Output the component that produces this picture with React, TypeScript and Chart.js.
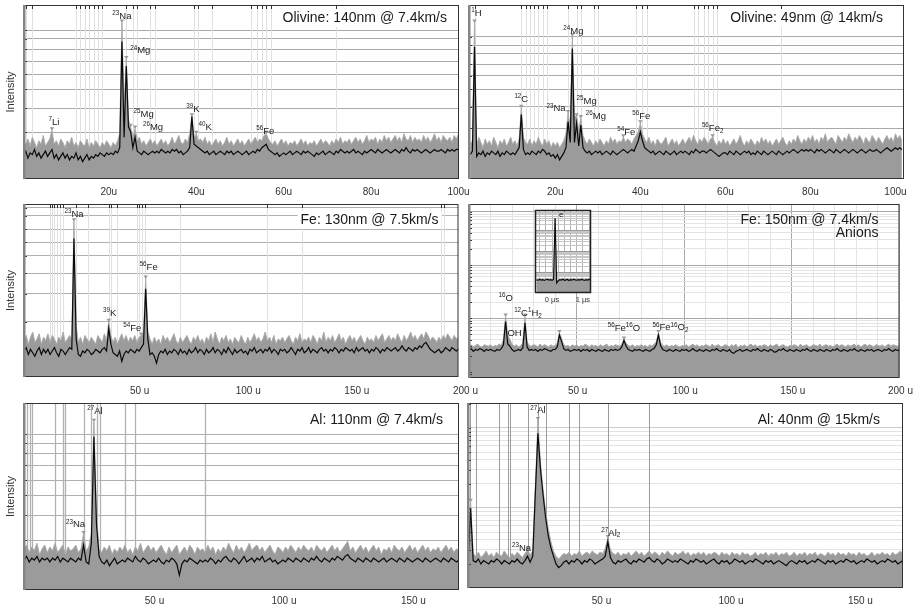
import React, { useEffect, useRef } from 'react';
import { Chart, registerables } from 'chart.js';

Chart.register(...registerables);

const FONT = '"Liberation Sans", Arial, Helvetica, sans-serif';

// ---------------- Panel 1: Olivine 140nm ----------------
const p1Title = ['Olivine: 140nm @ 7.4km/s'];
const p1MassStart = 0.5;
const p1MassStep = 0.5;
const p1XTicks = [20, 40, 60, 80, 100];
const p1YGrid = [27, 40.8, 51.7, 60.3, 67.8, 74.7, 80.5, 85.6];
const p1Markers = [1, 2.5, 12.5, 13.5, 14.5, 15.5, 16.5, 17.5, 18.5, 24, 25.5, 26.5, 29.5, 30.5, 39.5, 40.5, 43.5, 52.5, 54, 55, 56, 57, 72];
const p1Gray = [
  21, 20, 23, 19, 24, 21, 18, 22, 20, 25,
  19, 21, 23, 28, 20, 22, 19, 23, 21, 18,
  22, 20, 24, 19, 21, 18, 22, 20, 19, 23,
  18, 21, 19, 22, 20, 18, 21, 19, 22, 20,
  18, 21, 19, 22, 26, 90, 42, 69, 34, 30,
  24, 29, 22, 24, 20, 22, 19, 21, 23, 20,
  22, 19, 21, 23, 20, 22, 19, 21, 24, 20,
  22, 25, 21, 20, 23, 21, 26, 36, 24, 26,
  22, 23, 21, 24, 20, 22, 19, 21, 23, 20,
  22, 19, 21, 24, 20, 22, 19, 21, 23, 20,
  22, 19, 21, 23, 20, 22, 24, 21, 23, 22,
  25, 26, 23, 21, 20, 22, 19, 21, 23, 20,
  22, 19, 21, 20, 22, 19, 21, 23, 20, 22,
  19, 21, 20, 22, 19, 21, 23, 20, 22, 21,
  19, 22, 20, 23, 21, 24, 20, 22, 21, 23,
  20, 22, 24, 21, 23, 20, 22, 25, 21, 23,
  22, 24, 20, 23, 21, 25, 22, 24, 21, 23,
  25, 22, 24, 21, 26, 23, 22, 25, 21, 24,
  22, 23, 21, 25, 22, 24, 21, 23, 26, 22,
  24, 21, 25, 23, 22, 24, 21, 25, 23, 26,
];
const p1Black = [
  13, 16, 12, 15, 14, 17, 13, 15, 12, 14,
  16, 13, 15, 17, 12, 14, 11, 13, 15, 12,
  14, 11, 13, 12, 15, 11, 13, 10, 12, 14,
  11, 13, 12, 14, 13, 15, 14, 13, 15, 14,
  15, 14, 16, 15, 18, 79, 24, 65, 30, 27,
  18, 24, 16, 15, 14, 16, 15, 14, 15, 16,
  15, 16, 15, 17, 16, 15, 16, 15, 17, 16,
  17, 15, 16, 14, 15, 16, 18, 36, 20, 19,
  18, 17, 16, 15, 16, 14, 15, 16, 14, 15,
  16, 15, 14, 16, 15, 16, 14, 15, 16, 15,
  14, 15, 16, 14, 15, 16, 15, 17, 16, 18,
  19, 20, 17, 16, 15, 14, 15, 13, 14, 15,
  14, 15, 16, 14, 15, 16, 15, 14, 16, 15,
  16, 15, 14, 13, 15, 14, 15, 16, 14, 15,
  16, 15, 14, 16, 15, 17, 16, 15, 16, 15,
  16, 17, 15, 16, 15, 14, 16, 15, 16, 17,
  16, 15, 17, 16, 15, 16, 17, 16, 15, 16,
  17, 16, 15, 17, 16, 18, 16, 15, 17, 16,
  17, 16, 15, 16, 17, 16, 15, 16, 17, 16,
  16, 17, 16, 15, 17, 16, 17, 16, 17, 17,
];
// [mass, label, dx, dy, marker]
const p1Labels: any[] = [
  [7, '^7Li', 2, 9], [23, '^23Na', 0, 7], [24, '^24Mg', 14, 9], [25, '^25Mg', 13, 13],
  [26, '^26Mg', 18, 2], [39, '^39K', 1, 8], [40, '^40K', 9, 7], [56, '^56Fe', -1, 3],
];

// ---------------- Panel 2: Olivine 49nm ----------------
const p2Title = ['Olivine: 49nm @ 14km/s'];
const p2MassStart = 0;
const p2MassStep = 0.5;
const p2XTicks = [20, 40, 60, 80, 100];
const p2YGrid = [29.1, 41.6, 51.6, 59.2, 65.9, 72.2, 77.0, 81.8];
const p2Markers = [1, 12, 13, 14, 15, 16, 17, 18, 23, 25, 26, 29, 30, 39, 40.5, 41.5, 52.5, 53.5, 55, 56, 57, 58, 73];
const p2Gray = [
  20, 22, 90, 19, 24, 21, 18, 23, 20, 22,
  19, 24, 21, 18, 22, 20, 23, 19, 21, 24,
  20, 22, 19, 23, 41, 24, 21, 20, 23, 19,
  22, 20, 24, 21, 19, 23, 20, 22, 18, 21,
  19, 21, 18, 20, 22, 26, 38, 30, 82, 36,
  36, 28, 35, 25, 22, 20, 23, 21, 19, 22,
  20, 23, 21, 19, 22, 20, 24, 21, 23, 20,
  22, 21, 24, 21, 23, 22, 20, 23, 25, 27,
  32, 26, 23, 21, 24, 20, 22, 19, 23, 21,
  20, 22, 24, 19, 21, 23, 20, 22, 19, 21,
  23, 20, 22, 24, 21, 25, 22, 20, 23, 21,
  24, 22, 20, 23, 24, 21, 19, 22, 20, 23,
  20, 22, 19, 21, 23, 20, 22, 25, 21, 19,
  22, 20, 23, 21, 19, 22, 20, 24, 21, 23,
  20, 22, 19, 21, 23, 20, 22, 24, 21, 19,
  22, 20, 23, 21, 25, 22, 20, 23, 21, 24,
  22, 25, 21, 23, 20, 24, 22, 26, 21, 23,
  24, 22, 20, 25, 23, 21, 24, 22, 26, 23,
  21, 24, 22, 25, 23, 20, 24, 22, 21, 25,
  23, 21, 24, 22, 20, 23, 25, 22, 24, 21,
  26, 23, 25, 22,
];
const p2Black = [
  14, 16, 76, 13, 15, 14, 16, 13, 15, 14,
  16, 15, 14, 16, 13, 15, 14, 16, 15, 14,
  15, 14, 16, 18, 37, 17, 14, 15, 14, 16,
  15, 14, 16, 15, 17, 16, 14, 15, 13, 14,
  12, 14, 11, 13, 15, 18, 33, 21, 75, 21,
  32, 19, 31, 18, 16, 15, 16, 14, 15, 16,
  15, 16, 14, 15, 16, 15, 14, 16, 15, 14,
  15, 16, 17, 16, 15, 16, 17, 16, 19, 22,
  27, 22, 18, 17, 16, 15, 16, 14, 15, 16,
  15, 14, 16, 15, 14, 15, 16, 14, 15, 16,
  15, 16, 15, 14, 16, 15, 17, 16, 15, 16,
  16, 15, 16, 17, 16, 15, 14, 13, 14, 15,
  15, 14, 16, 15, 14, 16, 15, 14, 15, 16,
  15, 16, 14, 15, 14, 16, 15, 14, 16, 15,
  14, 15, 16, 15, 14, 16, 15, 14, 15, 16,
  15, 16, 17, 16, 15, 16, 17, 16, 17, 16,
  17, 16, 15, 17, 16, 17, 16, 15, 16, 17,
  16, 15, 17, 16, 15, 16, 17, 16, 15, 16,
  17, 16, 15, 16, 17, 16, 15, 16, 17, 16,
  16, 17, 16, 15, 16, 17, 18, 17, 16, 17,
  18, 17, 18, 17,
];
const p2Labels: any[] = [
  [1, '^1H', 2, 10], [12, '^12C', 0, 9], [23, '^23Na', -12, 5], [24, '^24Mg', 1, 6],
  [25, '^25Mg', 10, 16], [26, '^26Mg', 15, 3], [36, '^54Fe', 3, 6], [40, '^56Fe', 1, 8],
  [57, '^56Fe_2', 0, 10],
];

// ---------------- Panel 3: Fe 130nm ----------------
const p3Title = ['Fe: 130nm @ 7.5km/s'];
const p3MassStart = 0;
const p3MassStep = 1;
const p3XTicks = [50, 100, 150, 200];
const p3YGrid = [31.8, 48, 60.1, 70, 78, 85.5, 93.1, 97.7];
const p3Markers = [12, 13, 14, 15, 16.5, 18, 24, 29.5, 39, 40, 43, 52, 53, 54.5, 55.5, 72, 112, 128, 192, 193.5];
const p3Gray = [
  21, 24, 19, 23, 26, 20, 22, 25, 19, 23,
  21, 25, 20, 24, 22, 19, 23, 21, 26, 20,
  22, 24, 21, 90, 30, 20, 23, 19, 24, 22,
  20, 23, 21, 19, 24, 22, 20, 25, 21, 32,
  24, 20, 23, 19, 22, 25, 21, 24, 20, 23,
  21, 24, 20, 23, 24, 25, 57, 26, 22, 19,
  23, 20, 22, 19, 24, 21, 23, 20, 22, 25,
  21, 19, 23, 20, 22, 24, 21, 19, 23, 21,
  24, 20, 22, 19, 23, 21, 25, 20, 26, 22,
  19, 23, 21, 24, 20, 22, 19, 23, 21, 20,
  24, 21, 19, 23, 20, 22, 25, 21, 23, 20,
  22, 26, 21, 23, 20, 24, 19, 22, 21, 23,
  20, 22, 24, 21, 19, 23, 21, 25, 20, 22,
  21, 23, 20, 24, 22, 19, 23, 21, 26, 20,
  23, 21, 24, 20, 22, 25, 21, 23, 19, 22,
  24, 21, 23, 20, 22, 24, 21, 19, 23, 21,
  22, 20, 24, 21, 23, 25, 20, 22, 24, 21,
  23, 21, 25, 22, 20, 24, 21, 23, 26, 22,
  24, 21, 23, 25, 22, 26, 24, 21, 23, 22,
  20, 23, 21, 24, 22, 25, 23, 21, 24, 22,
  23,
];
const p3Black = [
  15, 17, 13, 16, 14, 12, 15, 17, 13, 16,
  14, 16, 13, 15, 17, 14, 12, 16, 15, 13,
  15, 17, 16, 80, 22, 13, 12, 15, 14, 16,
  15, 13, 14, 16, 15, 14, 16, 17, 15, 28,
  19, 14, 13, 12, 15, 9, 13, 15, 14, 16,
  15, 14, 16, 15, 17, 19, 51, 22, 13, 14,
  12, 8, 13, 15, 14, 16, 13, 15, 14, 16,
  15, 13, 16, 14, 15, 13, 16, 14, 15, 17,
  14, 16, 15, 13, 16, 14, 15, 17, 14, 16,
  15, 13, 16, 14, 17, 15, 13, 16, 14, 15,
  16, 14, 15, 13, 16, 15, 17, 14, 15, 16,
  14, 16, 15, 17, 14, 16, 15, 13, 16, 15,
  16, 14, 15, 17, 15, 13, 16, 15, 17, 14,
  15, 17, 14, 16, 15, 14, 16, 17, 15, 16,
  14, 16, 15, 17, 16, 14, 16, 15, 17, 16,
  15, 16, 14, 17, 15, 16, 17, 15, 16, 14,
  16, 15, 17, 16, 14, 16, 15, 17, 16, 15,
  16, 17, 15, 16, 18, 16, 15, 17, 16, 15,
  17, 16, 18, 17, 19, 20, 18, 16, 15, 14,
  15, 16, 14, 15, 17, 16, 15, 17, 16, 15,
  16,
];
const p3Labels: any[] = [
  [23, '^23Na', 0, 8], [39, '^39K', 1, 9], [54, '^54Fe', -9, 8], [56, '^56Fe', 3, 12],
];

// ---------------- Panel 4: Fe 150nm anions ----------------
const p4Title = ['Fe: 150nm @ 7.4km/s', 'Anions'];
const p4MassStart = 0;
const p4MassStep = 1;
const p4XTicks = [0, 10, 20, 30, 40, 50, 60, 70, 80, 90, 100, 110, 120, 130, 140, 150, 160, 170, 180, 190, 200];
const p4YGrid = [0.8, 0.9, 1, 2, 3, 4, 5, 6, 7, 8, 9, 10, 20, 30, 40, 50, 60, 70, 80, 90, 100, 200, 300, 400, 500, 600, 700, 800, 900, 1000];
const p4Gray = [
  3.0, 3.2, 2.9, 3.1, 3.3, 3.0, 2.9, 3.2, 3.1, 3.0,
  3.2, 2.9, 3.1, 3.0, 3.3, 3.1, 4.0, 10.8, 5.0, 4.0,
  3.3, 3.0, 3.2, 2.9, 3.1, 3.4, 10.8, 3.6, 3.1, 3.0,
  3.2, 3.1, 2.9, 3.3, 3.0, 3.2, 3.1, 2.9, 3.2, 3.0,
  3.1, 3.4, 5.3, 4.2, 3.2, 3.0, 3.1, 2.9, 3.2, 3.0,
  3.2, 2.9, 3.1, 3.0, 3.3, 3.1, 2.9, 3.2, 3.0, 3.1,
  2.9, 3.2, 3.0, 3.1, 3.3, 2.9, 3.1, 3.0, 3.2, 3.1,
  3.0, 3.3, 4.0, 3.4, 3.1, 3.0, 3.2, 2.9, 3.1, 3.0,
  3.2, 3.0, 3.1, 2.9, 3.2, 3.0, 3.3, 3.6, 5.3, 3.5,
  3.1, 3.0, 3.2, 2.9, 3.1, 3.0, 3.2, 3.0, 2.9, 3.1,
  3.0, 3.2, 2.9, 3.1, 3.3, 3.0, 3.2, 2.9, 3.1, 3.0,
  3.2, 3.1, 2.9, 3.3, 3.0, 3.1, 3.2, 2.9, 3.0, 3.2,
  3.1, 2.9, 3.2, 3.0, 3.3, 2.8, 3.1, 3.0, 3.2, 2.9,
  3.1, 3.3, 3.0, 3.2, 2.9, 3.1, 3.0, 3.2, 3.1, 2.9,
  3.2, 3.0, 3.1, 3.3, 2.9, 3.1, 3.2, 3.0, 2.9, 3.1,
  3.0, 3.2, 3.1, 2.9, 3.3, 3.0, 3.1, 3.2, 2.9, 3.0,
  3.2, 3.1, 3.0, 3.3, 2.9, 3.1, 3.2, 3.0, 3.1, 2.9,
  3.1, 3.3, 3.0, 3.2, 3.1, 2.9, 3.2, 3.0, 3.1, 3.3,
  3.0, 3.2, 2.9, 3.1, 3.3, 3.0, 3.2, 3.1, 2.9, 3.2,
  3.1, 3.0, 3.2, 2.9, 3.1, 3.3, 3.0, 3.2, 3.1, 3.0,
  3.1,
];
const p4Black = [
  2.5, 2.7, 2.4, 2.6, 2.5, 2.7, 2.6, 2.4, 2.6, 2.5,
  2.6, 2.5, 2.4, 2.6, 2.5, 2.7, 3.2, 8.7, 3.3, 3.0,
  2.6, 2.4, 2.5, 2.6, 2.5, 2.8, 8.2, 2.9, 2.5, 2.6,
  2.5, 2.6, 2.4, 2.6, 2.5, 2.7, 2.6, 2.5, 2.4, 2.6,
  2.6, 2.9, 4.9, 3.7, 2.7, 2.5, 2.6, 2.4, 2.5, 2.6,
  2.5, 2.6, 2.4, 2.6, 2.5, 2.6, 2.4, 2.6, 2.5, 2.4,
  2.6, 2.5, 2.4, 2.6, 2.5, 2.4, 2.6, 2.5, 2.6, 2.5,
  2.6, 2.9, 3.9, 3.0, 2.6, 2.5, 2.4, 2.6, 2.5, 2.6,
  2.5, 2.4, 2.6, 2.5, 2.4, 2.6, 2.7, 3.2, 4.9, 3.1,
  2.6, 2.5, 2.4, 2.6, 2.5, 2.4, 2.6, 2.5, 2.4, 2.6,
  2.5, 2.6, 2.4, 2.5, 2.7, 2.5, 2.4, 2.6, 2.5, 2.4,
  2.6, 2.5, 2.4, 2.6, 2.5, 2.7, 2.5, 2.4, 2.6, 2.5,
  2.4, 2.6, 2.3, 2.2, 2.4, 2.5, 2.6, 2.4, 2.5, 2.6,
  2.5, 2.4, 2.6, 2.5, 2.7, 2.5, 2.4, 2.6, 2.5, 2.4,
  2.6, 2.5, 2.3, 2.4, 2.6, 2.5, 2.7, 2.5, 2.4, 2.6,
  2.5, 2.4, 2.6, 2.5, 2.4, 2.6, 2.5, 2.7, 2.5, 2.4,
  2.6, 2.5, 2.4, 2.6, 2.5, 2.4, 2.6, 2.5, 2.4, 2.6,
  2.5, 2.7, 2.5, 2.4, 2.6, 2.5, 2.4, 2.6, 2.5, 2.7,
  2.5, 2.4, 2.6, 2.5, 2.4, 2.6, 2.5, 2.6, 2.4, 2.5,
  2.6, 2.5, 2.4, 2.6, 2.5, 2.7, 2.5, 2.4, 2.6, 2.5,
  2.5,
];
const p4Labels: any[] = [
  [17, '^16O', 0, 19], [17, 'OH', 9, -16, false], [26, '^12C^1H_2', 3, 4], [42, '', 0, 0],
  [72, '^56Fe^16O', 0, 12], [88, '^56Fe^16O_2', 12, 6],
];

// ---------------- Inset (electron peak) ----------------
const insetTimeStart = -0.5;
const insetTimeStep = 0.05;
const insetXTicks = [-0.4, -0.2, 0, 0.2, 0.4, 0.6, 0.8, 1, 1.2];
const insetYGrid = [2, 3, 4, 5, 6, 7, 8, 9, 10, 20, 30, 40, 50, 60, 70, 80, 90, 100, 200, 300, 400, 500, 600, 700, 800, 900, 1000, 2000, 3000, 4000, 5000, 6000, 7000, 8000, 9000];
const insetGray = [4.6, 4.4, 4.8, 4.5, 4.7, 4.4, 4.6, 4.9, 4.5, 4.7, 4.4, 4.8, 4200, 3.6, 4.2, 4.7, 4.5, 4.9, 4.4, 4.6, 4.8, 4.3, 4.7, 4.5, 4.9, 4.6, 4.4, 4.7, 4.5, 4.8, 4.6, 4.3, 4.7, 4.5, 4.8, 4.6];
const insetBlack = [4.3, 4.1, 4.5, 4.2, 4.4, 4.0, 4.3, 4.6, 4.2, 4.4, 4.1, 4.5, 4000, 3.0, 3.8, 4.4, 4.2, 4.6, 4.1, 4.3, 4.5, 4.0, 4.4, 4.2, 4.6, 4.3, 4.1, 4.4, 4.2, 4.5, 4.3, 4.0, 4.4, 4.2, 4.5, 4.3];
const insetLabels: any[] = [[0.1, 'e^-', 7, 4, false]];

// ---------------- Panel 5: Al 110nm ----------------
const p5Title = ['Al: 110nm @ 7.4km/s'];
const p5MassStart = 0;
const p5MassStep = 1;
const p5XTicks = [50, 100, 150];
const p5YGrid = [26.7, 40.1, 50.8, 58.8, 66.8, 73.1, 78.4, 83.3];
const p5Markers = [1, 2.3, 3, 12, 15, 16, 23, 26, 28, 29.3, 39, 43, 70];
const p5Gray = [
  22, 24, 20, 23, 21, 25, 19, 22, 24, 20,
  23, 21, 25, 20, 22, 24, 19, 23, 21, 22,
  24, 20, 22, 30, 21, 23, 30, 90, 40, 22,
  20, 23, 21, 24, 19, 22, 20, 23, 21, 24,
  20, 22, 19, 23, 21, 25, 20, 22, 24, 21,
  23, 20, 22, 24, 21, 19, 23, 20, 22, 24,
  19, 21, 23, 20, 24, 22, 19, 23, 21, 22,
  20, 24, 21, 23, 19, 22, 20, 23, 21, 25,
  22, 20, 24, 21, 23, 20, 22, 25, 21, 23,
  24, 21, 23, 20, 22, 24, 21, 19, 23, 22,
  20, 23, 21, 24, 22, 20, 23, 21, 24, 22,
  21, 23, 20, 24, 22, 21, 23, 20, 22, 24,
  21, 23, 20, 22, 24, 26, 21, 23, 20, 22,
  24, 21, 23, 20, 22, 24, 21, 23, 19, 22,
  21, 23, 20, 24, 22, 21, 23, 20, 22, 24,
  21, 23, 20, 22, 24, 21, 23, 20, 22, 21,
  23, 20, 22, 24, 21, 23, 20, 22, 21,
];
const p5Black = [
  16, 18, 15, 17, 16, 18, 15, 17, 16, 17,
  15, 17, 16, 18, 15, 17, 16, 15, 17, 16,
  15, 17, 16, 24, 15, 14, 25, 82, 35, 18,
  15, 14, 16, 13, 15, 17, 14, 15, 16, 15,
  17, 16, 15, 18, 16, 15, 17, 16, 14, 15,
  16, 15, 17, 15, 14, 16, 15, 17, 16, 14,
  8, 14, 16, 15, 17, 16, 15, 14, 16, 15,
  16, 15, 17, 16, 14, 16, 15, 17, 18, 16,
  15, 17, 16, 14, 16, 18, 15, 16, 17, 15,
  17, 16, 18, 15, 16, 17, 15, 16, 14, 15,
  16, 15, 17, 16, 15, 17, 16, 15, 17, 16,
  15, 17, 16, 18, 16, 15, 17, 16, 15, 17,
  16, 18, 17, 16, 18, 19, 17, 16, 15, 17,
  16, 15, 17, 16, 15, 17, 16, 15, 16, 17,
  15, 16, 17, 16, 15, 17, 16, 15, 17, 16,
  15, 16, 17, 16, 15, 17, 16, 15, 16, 17,
  16, 15, 17, 16, 15, 17, 16, 15, 16,
];
const p5Labels: any[] = [[23, '^23Na', -8, 10], [27, '^27Al', 1, 11]];

// ---------------- Panel 6: Al 40nm ----------------
const p6Title = ['Al: 40nm @ 15km/s'];
const p6MassStart = 0;
const p6MassStep = 1;
const p6XTicks = [50, 100, 150];
const p6YGrid = [2, 3, 4, 5, 6, 7, 8, 9, 10, 20, 30, 40, 50, 60, 70, 80, 90, 100, 200];
const p6Markers = [0.8, 3.1, 12, 15.6, 16.2, 23.3, 27.2, 30, 39, 43, 54, 70];
const p6Gray = [
  2.6, 12, 2.7, 2.5, 2.8, 2.4, 2.6, 2.9, 2.5, 2.7,
  2.4, 2.8, 2.6, 2.5, 2.9, 2.6, 2.4, 2.7, 2.5, 2.8,
  2.6, 2.4, 2.7, 3.0, 2.6, 2.9, 18, 126, 36, 17,
  9, 5.5, 3.8, 2.9, 2.5, 2.3, 2.5, 2.7, 2.6, 2.8,
  2.5, 2.7, 2.6, 2.9, 2.5, 2.7, 2.8, 2.6, 2.9, 2.7,
  2.6, 2.8, 2.7, 3.1, 4.2, 3.0, 2.7, 2.6, 2.8, 2.5,
  2.7, 2.6, 2.8, 2.5, 2.7, 2.9, 2.6, 2.8, 2.5, 2.7,
  2.9, 2.6, 2.8, 2.7, 2.5, 2.8, 2.6, 2.9, 2.7, 2.5,
  2.8, 2.6, 2.7, 2.9, 2.6, 2.8, 2.5, 2.7, 2.6, 2.8,
  2.6, 2.8, 2.5, 2.7, 2.6, 2.8, 2.7, 2.5, 2.8, 2.6,
  2.7, 2.5, 2.8, 2.6, 2.7, 2.5, 2.8, 2.6, 2.7, 2.5,
  2.6, 2.8, 2.5, 2.7, 2.6, 2.8, 2.5, 2.7, 2.6, 2.8,
  2.5, 2.7, 2.6, 2.8, 2.5, 2.6, 2.8, 2.5, 2.7, 2.6,
  2.8, 2.5, 2.7, 2.6, 2.8, 2.5, 2.7, 2.6, 2.5, 2.8,
  2.6, 2.7, 2.5, 2.8, 2.6, 2.7, 2.5, 2.8, 2.6, 2.7,
  2.5, 2.8, 2.6, 2.7, 2.5, 2.6, 2.8, 2.5, 2.7, 2.6,
  2.8, 2.6, 2.7, 2.5, 2.8, 2.6, 2.7, 2.9, 2.6,
];
const p6Black = [
  2.0, 10, 2.2, 2.1, 2.3, 2.0, 2.2, 2.1, 2.0, 2.2,
  2.1, 2.3, 2.2, 2.0, 2.2, 2.1, 2.0, 2.2, 2.1, 2.3,
  2.1, 2.0, 2.2, 2.5, 2.1, 2.5, 15, 86, 30, 14.5,
  7.5, 4.5, 3.2, 2.5, 2.0, 1.8, 1.9, 2.1, 2.2, 2.0,
  2.2, 2.1, 2.3, 2.2, 2.0, 2.2, 2.1, 2.3, 2.2, 2.0,
  2.1, 2.2, 2.3, 2.5, 3.8, 2.4, 2.1, 2.0, 2.2, 2.1,
  2.2, 2.3, 2.1, 2.0, 2.2, 2.1, 2.3, 2.2, 2.1, 2.3,
  2.4, 2.2, 2.1, 2.3, 2.2, 2.0, 2.1, 2.3, 2.2, 2.1,
  2.2, 2.1, 2.3, 2.2, 2.1, 2.0, 2.2, 2.1, 2.3, 2.2,
  2.1, 2.2, 2.0, 2.1, 2.2, 2.3, 2.1, 2.0, 2.2, 2.1,
  2.2, 2.0, 2.1, 2.3, 2.2, 2.1, 2.2, 2.0, 2.1, 2.2,
  2.1, 2.3, 2.2, 2.1, 2.0, 2.2, 2.1, 2.2, 2.0, 2.1,
  2.2, 2.1, 2.0, 1.9, 2.1, 2.2, 2.1, 2.0, 2.2, 2.1,
  2.2, 2.0, 2.1, 2.2, 2.1, 2.3, 2.2, 2.1, 2.0, 2.2,
  2.1, 2.2, 2.0, 2.1, 2.2, 2.1, 2.3, 2.2, 2.1, 2.2,
  2.0, 2.1, 2.2, 2.1, 2.3, 2.2, 2.1, 2.2, 2.0, 2.1,
  2.2, 2.1, 2.3, 2.2, 2.1, 2.2, 2.0, 2.1, 2.2,
];
const p6Labels: any[] = [[1, '', 0, 0], [23, '^23Na', -6, 2], [27, '^27Al', 0, 10], [54, '^27Al_2', 3, 6]];

const yAxisTitle = 'Intensity';

// ---------------- helpers ----------------
const isDecade = (v: number) => {
  const l = Math.log10(v);
  return Math.abs(l - Math.round(l)) < 1e-9;
};

function drawRich(ctx: CanvasRenderingContext2D, text: string, cx: number, cy: number, size: number, color: string) {
  const parts: { t: string; k: string }[] = [];
  const re = /\^(\d+|-)|_(\d+)|([^\^_]+)/g;
  let m: any;
  while ((m = re.exec(text))) {
    if (m[1] !== undefined) parts.push({ t: m[1], k: 'sup' });
    else if (m[2] !== undefined) parts.push({ t: m[2], k: 'sub' });
    else parts.push({ t: m[3], k: 'n' });
  }
  const small = size * 0.66;
  let w = 0;
  for (const p of parts) {
    ctx.font = `${p.k === 'n' ? size : small}px ${FONT}`;
    w += ctx.measureText(p.t).width;
  }
  let x = cx - w / 2;
  const base = cy + size * 0.36;
  ctx.fillStyle = color;
  ctx.textAlign = 'left';
  ctx.textBaseline = 'alphabetic';
  for (const p of parts) {
    ctx.font = `${p.k === 'n' ? size : small}px ${FONT}`;
    const y = p.k === 'sup' ? base - size * 0.4 : p.k === 'sub' ? base + size * 0.2 : base;
    ctx.fillText(p.t, x, y);
    x += ctx.measureText(p.t).width;
  }
}

function PanelChart({ def }: { def: any }) {
  const ref = useRef<HTMLCanvasElement>(null);
  useEffect(() => {
    const canvas = ref.current!;
    const xAt = (i: number) => def.xStart + i * def.xStep;
    const grayData = def.gray.map((v: number, i: number) => ({ x: xAt(i), y: v }));
    const blackData = def.black.map((v: number, i: number) => ({ x: xAt(i), y: v }));

    const decor = {
      id: 'decor',
      beforeDraw(chart: any) {
        if (!def.bg) return;
        const a = chart.chartArea;
        const ctx = chart.ctx;
        ctx.save();
        ctx.fillStyle = def.bg;
        ctx.fillRect(a.left, a.top, a.right - a.left, a.bottom - a.top);
        ctx.restore();
      },
      beforeDatasetsDraw(chart: any) {
        const { ctx, chartArea: a, scales } = chart;
        ctx.save();
        ctx.strokeStyle = def.markerColor || '#ddd';
        ctx.lineWidth = def.markerWidth || 1;
        for (const m of def.markers || []) {
          const x = Math.round(scales.x.getPixelForValue(m)) + 0.5;
          ctx.beginPath();
          ctx.moveTo(x, a.top);
          ctx.lineTo(x, a.bottom);
          ctx.stroke();
        }
        ctx.restore();
      },
      afterDatasetsDraw(chart: any) {
        const { ctx, chartArea: a, scales } = chart;
        const xs = scales.x;
        const ys = scales.y;
        ctx.save();
        // peak markers and labels
        for (const lab of def.labels || []) {
          const [m, text, dx, dy, mk] = lab;
          const i = Math.round((m - def.xStart) / def.xStep);
          const px = xs.getPixelForValue(m);
          const py = ys.getPixelForValue(def.gray[i]);
          if (mk !== false) {
            ctx.fillStyle = '#9a9a9a';
            ctx.beginPath();
            ctx.moveTo(px - 2.2, py - 3);
            ctx.lineTo(px + 2.2, py - 3);
            ctx.lineTo(px, py + 0.5);
            ctx.closePath();
            ctx.fill();
          }
          if (text) drawRich(ctx, text, px + dx, py - dy, def.labelSize || 9.5, '#222');
        }
        // title
        if (def.title && def.title.length) {
          ctx.font = `14px ${FONT}`;
          ctx.textAlign = 'right';
          ctx.textBaseline = 'middle';
          def.title.forEach((t: string, j: number) => {
            const xr = a.right - def.titleGap;
            const y = a.top + def.titleTop + j * 13;
            if (def.titleBox) {
              const w = ctx.measureText(t).width;
              ctx.fillStyle = '#fff';
              ctx.fillRect(xr - w - 3, y - 9, w + 6, 18);
            }
            ctx.fillStyle = '#1a1a1a';
            ctx.fillText(t, xr, y);
          });
        }
        // top ticks for element markers
        if (def.topTicks) {
          ctx.strokeStyle = '#333';
          ctx.lineWidth = 1;
          for (const m of def.markers || []) {
            const x = Math.round(xs.getPixelForValue(m)) + 0.5;
            ctx.beginPath();
            ctx.moveTo(x, a.top);
            ctx.lineTo(x, a.top + 4);
            ctx.stroke();
          }
        }
        // left inner ticks
        if (def.leftTicks) {
          ctx.strokeStyle = '#333';
          ctx.lineWidth = 1;
          for (const v of def.yTicks) {
            const y = Math.round(ys.getPixelForValue(v)) + 0.5;
            if (y <= a.top + 1 || y >= a.bottom - 1) continue;
            ctx.beginPath();
            ctx.moveTo(a.left, y);
            ctx.lineTo(a.left + 3, y);
            ctx.stroke();
          }
        }
        // frame
        ctx.strokeStyle = def.frameColor || '#333';
        ctx.lineWidth = def.frameWidth || 1;
        ctx.strokeRect(a.left + 0.5, a.top + 0.5, a.right - a.left - 1, a.bottom - a.top - 1);
        if (def.leftBar) {
          ctx.fillStyle = '#858585';
          ctx.fillRect(a.left - 1, a.top, 2.5, a.bottom - a.top);
        }
        // y-axis title
        if (def.yTitle) {
          ctx.save();
          ctx.translate(a.left - 13, (a.top + a.bottom) / 2);
          ctx.rotate(-Math.PI / 2);
          ctx.font = `11px ${FONT}`;
          ctx.fillStyle = '#333';
          ctx.textAlign = 'center';
          ctx.textBaseline = 'middle';
          ctx.fillText(yAxisTitle, 0, 0);
          ctx.restore();
        }
        ctx.restore();
      },
    };

    const chart = new Chart(canvas, {
      type: 'line',
      data: {
        datasets: [
          {
            data: grayData,
            order: 2,
            borderColor: def.grayLine || '#aaaaaa',
            borderWidth: 1,
            backgroundColor: '#9b9b9b',
            fill: 'start',
            pointRadius: 0,
            tension: 0,
          },
          {
            data: blackData,
            order: 1,
            borderColor: '#0a0a0a',
            borderWidth: def.blackWidth || 1.2,
            fill: false,
            pointRadius: 0,
            tension: 0,
          },
        ],
      },
      options: {
        responsive: false,
        animation: false,
        devicePixelRatio: 1,
        events: [],
        layout: { padding: { left: def.lw, top: def.tp, right: def.rp, bottom: 0 }, autoPadding: false },
        plugins: { legend: { display: false }, tooltip: { enabled: false }, title: { display: false } },
        scales: {
          x: {
            type: 'linear',
            min: def.xMin,
            max: def.xMax,
            afterBuildTicks: (s: any) => {
              s.ticks = def.xTicks.map((v: number) => ({ value: v }));
            },
            afterFit: (s: any) => {
              s.height = def.bh;
            },
            ticks: {
              autoSkip: false,
              maxRotation: 0,
              padding: def.tickPad,
              labelOffset: def.labelOffset,
              color: '#333',
              font: { family: FONT, size: def.tickSize || 10 },
              callback: (v: any) => def.xLabel(Number(v)),
            },
            grid: {
              display: !!def.xGridColor,
              drawTicks: false,
              color: (c: any) => (def.xGridColor ? def.xGridColor(c.tick ? c.tick.value : 0) : '#ddd'),
            },
            border: { display: false },
          },
          y: {
            type: def.yLog ? 'logarithmic' : 'linear',
            min: def.yMin,
            max: def.yMax,
            afterBuildTicks: (s: any) => {
              s.ticks = def.yTicks.map((v: number) => ({ value: v }));
            },
            afterFit: (s: any) => {
              s.width = 0;
            },
            ticks: { display: false },
            grid: {
              drawTicks: false,
              lineWidth: 1,
              color: (c: any) => def.yGridColor(c.tick ? c.tick.value : 0),
            },
            border: { display: false },
          },
        },
      } as any,
      plugins: [decor],
    });
    return () => chart.destroy();
  }, [def]);

  const W = def.lw + def.plot.w + def.rp;
  const H = def.tp + def.plot.h + def.bh;
  return (
    <canvas
      ref={ref}
      width={W}
      height={H}
      style={{ position: 'absolute', left: def.plot.l - def.lw, top: def.plot.t - def.tp, width: W, height: H }}
    />
  );
}

const flat = (c: string) => () => c;
const logGrid = (major: string, minor: string) => (v: number) => (isDecade(v) ? major : minor);

const panels: any[] = [
  {
    plot: { l: 24, t: 5, w: 435, h: 174 }, lw: 24, tp: 2, rp: 20, bh: 22,
    xMin: 0.6, xMax: 100.1, xStart: p1MassStart, xStep: p1MassStep, xTicks: p1XTicks,
    xLabel: (v: number) => `${v}u`, labelOffset: 0, tickPad: 7,
    yLog: false, yMin: 0, yMax: 100, yTicks: p1YGrid, yGridColor: flat('#a9a9a9'),
    gray: p1Gray, black: p1Black, markers: p1Markers, markerColor: '#e0e0e0', markerWidth: 1, topTicks: true,
    labels: p1Labels, title: p1Title, titleGap: 12, titleTop: 13, titleBox: true, yTitle: true,
    leftTicks: true, leftBar: true,
  },
  {
    plot: { l: 469, t: 5, w: 435, h: 174 }, lw: 6, tp: 2, rp: 15, bh: 22,
    xMin: -0.3, xMax: 102, xStart: p2MassStart, xStep: p2MassStep, xTicks: p2XTicks,
    xLabel: (v: number) => `${v}u`, labelOffset: 0, tickPad: 7,
    yLog: false, yMin: 0, yMax: 100, yTicks: p2YGrid, yGridColor: flat('#a9a9a9'),
    gray: p2Gray, black: p2Black, markers: p2Markers, markerColor: '#e0e0e0', markerWidth: 1, topTicks: true,
    labels: p2Labels, title: p2Title, titleGap: 21, titleTop: 13, titleBox: true, yTitle: false,
    leftTicks: true, leftBar: true,
  },
  {
    plot: { l: 24, t: 204, w: 435, h: 173 }, lw: 24, tp: 2, rp: 20, bh: 22,
    xMin: 0, xMax: 200, xStart: p3MassStart, xStep: p3MassStep, xTicks: p3XTicks,
    xLabel: (v: number) => `${v} u`, labelOffset: 7, tickPad: 8,
    yLog: false, yMin: 0, yMax: 100, yTicks: p3YGrid, yGridColor: flat('#b0b0b0'),
    gray: p3Gray, black: p3Black, markers: p3Markers, markerColor: '#e0e0e0', markerWidth: 1, topTicks: true,
    labels: p3Labels, title: p3Title, titleGap: 20, titleTop: 16, titleBox: true, yTitle: true,
    leftTicks: true, leftBar: true,
  },
  {
    plot: { l: 468, t: 204, w: 436, h: 174 }, lw: 6, tp: 2, rp: 15, bh: 22,
    xMin: 0, xMax: 200, xStart: p4MassStart, xStep: p4MassStep, xTicks: p4XTicks,
    xLabel: (v: number) => (v > 0 && v % 50 === 0 ? `${v} u` : ''), labelOffset: 1, tickPad: 7,
    xGridColor: (v: number) => (v % 50 === 0 ? '#a8a8a8' : '#e4e4e4'),
    yLog: true, yMin: 0.76, yMax: 1395, yTicks: p4YGrid, yGridColor: logGrid('#a8a8a8', '#e4e4e4'),
    gray: p4Gray, black: p4Black, markers: [], topTicks: false,
    labels: p4Labels, title: p4Title, titleGap: 21, titleTop: 16, titleBox: false, yTitle: false,
    leftTicks: true, leftBar: true,
  },
  {
    plot: { l: 24, t: 403, w: 435, h: 187 }, lw: 24, tp: 2, rp: 20, bh: 20,
    xMin: 0, xMax: 168, xStart: p5MassStart, xStep: p5MassStep, xTicks: p5XTicks,
    xLabel: (v: number) => `${v} u`, labelOffset: 1, tickPad: 5,
    yLog: false, yMin: 0, yMax: 100, yTicks: p5YGrid, yGridColor: flat('#b0b0b0'),
    gray: p5Gray, black: p5Black, markers: p5Markers, markerColor: '#b2b2b2', markerWidth: 1.3, topTicks: false,
    labels: p5Labels, title: p5Title, titleGap: 16, titleTop: 17, titleBox: true, yTitle: true,
    leftTicks: true, leftBar: true,
  },
  {
    plot: { l: 468, t: 403, w: 435, h: 185 }, lw: 6, tp: 2, rp: 16, bh: 22,
    xMin: 0, xMax: 168, xStart: p6MassStart, xStep: p6MassStep, xTicks: p6XTicks,
    xLabel: (v: number) => `${v} u`, labelOffset: 4, tickPad: 7,
    yLog: true, yMin: 1, yMax: 205, yTicks: p6YGrid, yGridColor: logGrid('#cccccc', '#e3e3e3'),
    gray: p6Gray, black: p6Black, markers: p6Markers, markerColor: '#9c9c9c', markerWidth: 1, topTicks: false,
    labels: p6Labels, title: p6Title, titleGap: 23, titleTop: 17, titleBox: false, yTitle: false,
    leftTicks: true, leftBar: true,
  },
];

const insetDef: any = {
  plot: { l: 535, t: 210, w: 56, h: 83 }, lw: 2, tp: 2, rp: 10, bh: 13,
  xMin: -0.55, xMax: 1.26, xStart: insetTimeStart, xStep: insetTimeStep, xTicks: insetXTicks,
  xLabel: (v: number) => (Math.abs(v) < 1e-9 ? '0 µs' : Math.abs(v - 1) < 1e-9 ? '1 µs' : ''),
  labelOffset: 0, tickPad: 2, tickSize: 7.5,
  xGridColor: () => '#b4b4b4',
  yLog: true, yMin: 1, yMax: 10000, yTicks: insetYGrid, yGridColor: logGrid('#9a9a9a', '#c6c6c6'),
  gray: insetGray, black: insetBlack, markers: [], topTicks: false,
  labels: insetLabels, labelSize: 8, title: [], yTitle: false,
  leftTicks: false, leftBar: false, bg: '#ffffff', frameColor: '#222', frameWidth: 1.5, blackWidth: 1.1,
};

export default function App() {
  return (
    <div style={{ position: 'absolute', left: 0, top: 0, width: 919, height: 610, background: '#fff', overflow: 'hidden' }}>
      {panels.map((p, i) => (
        <PanelChart key={i} def={p} />
      ))}
      <PanelChart def={insetDef} />
    </div>
  );
}
